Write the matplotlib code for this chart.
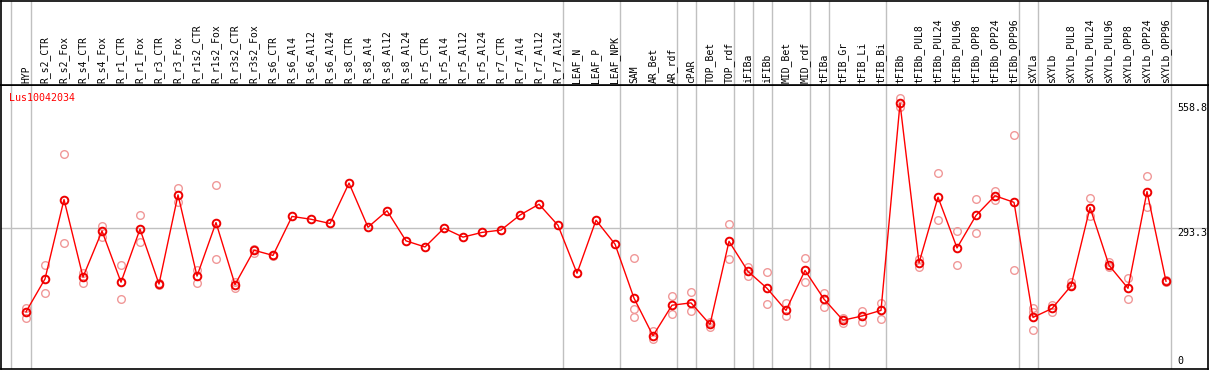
import numpy as np
import matplotlib.pyplot as plt

# probe / gene name
gene = 'Lus10042034'

# sample names (header)
labels = ['HYP', 'R_s2_CTR', 'R_s2_Fox', 'R_s4_CTR', 'R_s4_Fox', 'R_r1_CTR', 'R_r1_Fox',
          'R_r3_CTR', 'R_r3_Fox', 'R_r1s2_CTR', 'R_r1s2_Fox', 'R_r3s2_CTR', 'R_r3s2_Fox',
          'R_s6_CTR', 'R_s6_Al4', 'R_s6_Al12', 'R_s6_Al24', 'R_s8_CTR', 'R_s8_Al4',
          'R_s8_Al12', 'R_s8_Al24', 'R_r5_CTR', 'R_r5_Al4', 'R_r5_Al12', 'R_r5_Al24',
          'R_r7_CTR', 'R_r7_Al4', 'R_r7_Al12', 'R_r7_Al24', 'LEAF_N', 'LEAF_P', 'LEAF_NPK',
          'SAM', 'AR_Bet', 'AR_rdf', 'cPAR', 'TOP_Bet', 'TOP_rdf', 'iFIBa', 'iFIBb',
          'MID_Bet', 'MID_rdf', 'tFIBa', 'tFIB_Gr', 'tFIB_Li', 'tFIB_Bi', 'tFIBb',
          'tFIBb_PUL8', 'tFIBb_PUL24', 'tFIBb_PUL96', 'tFIBb_OPP8', 'tFIBb_OPP24',
          'tFIBb_OPP96', 'sXYLa', 'sXYLb', 'sXYLb_PUL8', 'sXYLb_PUL24', 'sXYLb_PUL96',
          'sXYLb_OPP8', 'sXYLb_OPP24', 'sXYLb_OPP96']

# mean expression
means = [115, 185, 354, 189, 287, 178, 291, 174, 364, 191, 305, 173, 246,
         235, 318, 312, 303, 389, 295, 330, 266, 253, 293, 274, 284,
         289, 321, 344, 299, 197, 310, 259,
         144, 64, 129, 134, 88, 265, 201, 165, 118, 203, 142, 97, 106, 118,
         558.8, 219, 359, 251, 320, 362, 348,
         103, 122, 170, 337, 214, 165, 371, 180]

# replicate values
reps = [[122, 101], [215, 156], [451, 261], [198, 177], [298, 275], [215, 142], [320, 263],
        [176, 172], [378, 349], [204, 177], [384, 227], [179, 165], [248, 241],
        [236, 234], [], [], [], [], [], [], [], [], [], [], [],
        [], [], [], [], [], [], [],
        [230, 121, 104], [75, 56], [149, 110], [157, 116], [93, 83], [301, 227],
        [211, 191], [199, 132], [134, 105], [230, 178], [154, 126], [102, 91],
        [117, 94], [134, 100],
        [570, 550], [227, 211], [410, 310], [286, 214], [355, 283], [373, 353], [491, 205],
        [122, 114, 76], [130, 115], [178, 172], [357, 318], [222, 210], [187, 143],
        [404, 339], [182, 179]]

# group separators (after these samples)
sep_after = [0, 28, 31, 34, 35, 37, 38, 39, 41, 42, 45, 52, 53, 60]
yticks = [0, 293.3, 558.8]

W, H = 1209, 370
x = np.arange(len(labels))
fig = plt.figure(figsize=(W / 100, H / 100), dpi=100)

ax = fig.add_axes([1 / W, (H - 368.5) / H, 1207 / W, (368.5 - 85.3) / H])
hx = fig.add_axes([1 / W, (H - 85.3) / H, 1207 / W, 84.8 / H], sharex=ax)

xmin, xmax = -1.316, 62.21
ax.set_xlim(xmin, xmax)
ax.set_ylim(-5.75, 597.2)
hx.set_ylim(0, 1)

seps = [-0.8] + [i + 0.25 for i in sep_after]
for s in seps:
    ax.axvline(s, color='#c0c0c0', lw=1.0, zorder=0)
    hx.axvline(s, color='#c0c0c0', lw=1.0, zorder=0)
ax.axhline(293.3, color='#c0c0c0', lw=1.0, zorder=0)

# replicates
for i, r in enumerate(reps):
    if r:
        ax.plot([i] * len(r), r, 'o', ms=5.5, mfc='none', mec='#f09898', mew=1.0, zorder=2)

# means
ax.plot(x, means, '-', color='red', lw=1.0, zorder=3)
ax.plot(x, means, 'o', ms=5.5, mfc='none', mec='#ee0000', mew=1.4, zorder=4)

for a in (ax, hx):
    a.set_xticks([])
    a.set_yticks([])
    for sp in a.spines.values():
        sp.set_color('black')
        sp.set_linewidth(1.2)

for i, lab in enumerate(labels):
    hx.text(i, 0.03, lab, rotation=90, ha='center', va='bottom',
            family='DejaVu Sans Mono', fontsize=7)

ax.text(0.0065, 0.973, gene, transform=ax.transAxes, color='red',
        family='DejaVu Sans Mono', fontsize=7.2, va='top', ha='left')

tr = ax.get_yaxis_transform()
for v in yticks:
    ax.text(0.9745, v, '%g' % v if v == 0 else '%.1f' % v, transform=tr,
            family='DejaVu Sans Mono', fontsize=7.2, ha='left',
            va='bottom' if v == 0 else 'top')

plt.savefig('out.png', dpi=100)
